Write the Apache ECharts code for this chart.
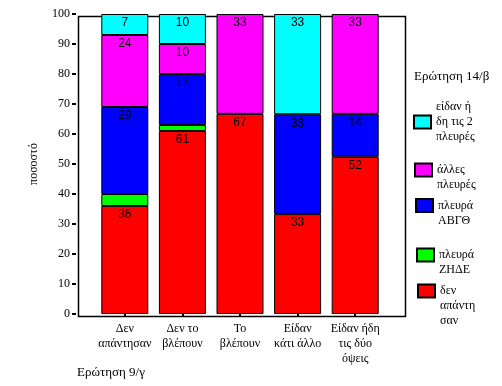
<!DOCTYPE html>
<html><head><meta charset="utf-8">
<script src="https://cdn.jsdelivr.net/npm/echarts@6/dist/echarts.min.js"></script>
<style>html,body{margin:0;padding:0;background:#fff}#c{width:502px;height:386px}</style>
</head><body><div id="c"></div>
<script>
var categories = ['Δεν\nαπάντησαν', 'Δεν το\nβλέπουν', 'Το\nβλέπουν', 'Είδαν\nκάτι άλλο', 'Είδαν ήδη\nτις δύο\nόψεις'];
var seriesNames = ['δεν απάντησαν', 'πλευρά ΖΗΔΕ', 'πλευρά ΑΒΓΘ', 'άλλες πλευρές', 'είδαν ήδη τις 2 πλευρές'];
var legendLabels = ['\n\nδεν\nαπάντη\nσαν', '\nπλευρά\nΖΗΔΕ', '\nπλευρά\nΑΒΓΘ', '\nάλλες\nπλευρές', 'είδαν ή\nδη τις 2\nπλευρές'];
var denApantisan = [36, 61, 66.7, 33.3, 52.4];
var plevraZHDE = [4, 2, 0, 0, 0];
var plevraABGTH = [29, 17, 0, 33.3, 14.3];
var allesPlevres = [24, 10, 33.3, 0, 33.3];
var eidanIdi = [7, 10, 0, 33.4, 0];
var yTicks = [0, 10, 20, 30, 40, 50, 60, 70, 80, 90, 100];
var colors = ['#ff0000', '#00ff00', '#0000ff', '#ff00ff', '#00ffff'];

var values = [denApantisan, plevraZHDE, plevraABGTH, allesPlevres, eidanIdi];
var legendTops = [253.5, 232.5, 183, 147.5, 99.5];
var legendLefts = [417, 416, 415, 414, 413];

var chart = echarts.init(document.getElementById('c'), null, {renderer: 'canvas'});
var series = seriesNames.map(function (n, i) {
  return {
    name: n, type: 'bar', stack: 'a', barWidth: 47,
    data: values[i].map(function (v) { return v === 0 ? null : v; }),
    itemStyle: {color: colors[i], borderColor: '#000', borderWidth: 1},
    label: {
      show: true, position: 'insideTop', distance: 3, color: '#000',
      fontFamily: 'Liberation Sans', fontSize: 12,
      formatter: function (p) { return p.value >= 5 ? Math.round(p.value) : ''; }
    },
    emphasis: {disabled: true}
  };
});
var legends = seriesNames.map(function (n, i) {
  return {
    data: [n], left: legendLefts[i], top: legendTops[i], orient: 'vertical', padding: 0,
    itemWidth: 17, itemHeight: 13, icon: 'rect', selectedMode: false,
    formatter: function () { return legendLabels[i]; },
    textStyle: {fontFamily: 'Liberation Serif', fontSize: 12, lineHeight: 15, color: '#000'}
  };
});
chart.setOption({
  animation: false,
  title: [
    {text: 'Ερώτηση 9/γ', left: 72, top: 361, textStyle: {fontFamily: 'Liberation Serif', fontSize: 13, fontWeight: 'normal', color: '#000'}},
    {text: 'Ερώτηση 14/β', left: 409, top: 65, textStyle: {fontFamily: 'Liberation Serif', fontSize: 13, fontWeight: 'normal', color: '#000'}}
  ],
  legend: legends,
  grid: {left: 96, right: 118, top: 14, bottom: 72},
  xAxis: {
    type: 'category', data: categories,
    axisLine: {show: false},
    axisTick: {show: true, alignWithLabel: true, length: 3, lineStyle: {color: '#000', width: 2}},
    axisLabel: {fontFamily: 'Liberation Serif', fontSize: 12, lineHeight: 15, color: '#000', margin: 7, interval: 0}
  },
  yAxis: {
    type: 'value', min: 0, max: 100, interval: 10, offset: 20,
    name: 'ποσοστό', nameLocation: 'middle', nameGap: 36,
    nameTextStyle: {fontFamily: 'Liberation Serif', fontSize: 12, color: '#000'},
    axisLine: {show: false},
    axisTick: {show: true, length: 4, lineStyle: {color: '#000', width: 2}},
    splitLine: {show: false},
    axisLabel: {fontFamily: 'Liberation Serif', fontSize: 12, color: '#000', margin: 6,
      formatter: function (v) { return yTicks.indexOf(v) >= 0 ? String(v) : ''; }}
  },
  graphic: [{
    type: 'rect', left: 76, top: 14, z: 0, silent: true,
    shape: {width: 327, height: 300},
    style: {fill: 'none', stroke: '#000', lineWidth: 1.5}
  }],
  series: series
});
</script></body></html>
